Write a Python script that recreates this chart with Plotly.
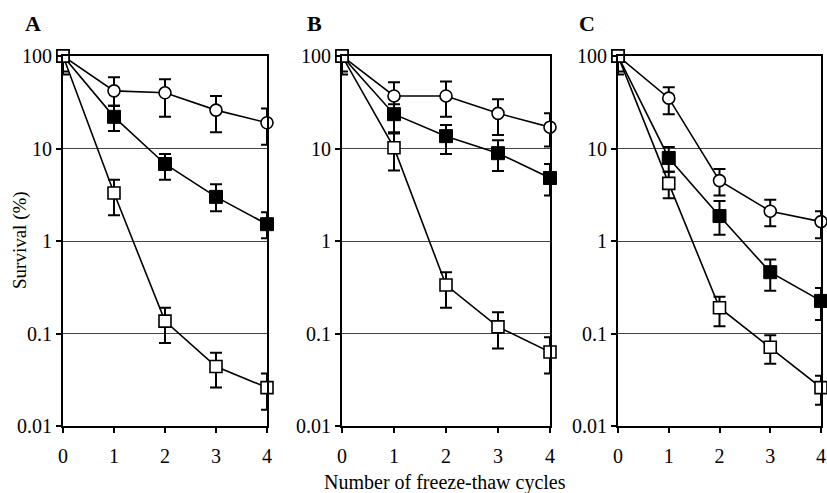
import plotly.graph_objects as go

cycles = [0, 1, 2, 3, 4]
panels = ["A", "B", "C"]

# Panel A
A_circ = [100, 42, 40, 26, 19]
A_circ_hi = [100, 59, 56, 37, 27]
A_circ_lo = [100, 29, 22, 15, 11]
A_fsq = [100, 22, 6.8, 3.0, 1.52]
A_fsq_hi = [100, 29, 8.7, 4.1, 2.05]
A_fsq_lo = [68, 15.5, 4.6, 2.1, 1.07]
A_osq = [100, 3.3, 0.136, 0.044, 0.026]
A_osq_hi = [100, 4.6, 0.19, 0.062, 0.037]
A_osq_lo = [63, 1.9, 0.079, 0.026, 0.015]

# Panel B
B_circ = [100, 37, 37, 24, 17]
B_circ_hi = [100, 52, 53, 34, 24]
B_circ_lo = [100, 25, 22, 14, 10.5]
B_fsq = [100, 23.5, 13.6, 8.9, 4.8]
B_fsq_hi = [100, 30, 17.9, 12.3, 6.8]
B_fsq_lo = [68, 14.5, 8.7, 5.7, 3.1]
B_osq = [100, 10.2, 0.334, 0.118, 0.063]
B_osq_hi = [100, 15, 0.46, 0.17, 0.091]
B_osq_lo = [63, 5.8, 0.19, 0.069, 0.037]

# Panel C
C_circ = [100, 35, 4.5, 2.1, 1.62]
C_circ_hi = [100, 46, 6.0, 2.8, 2.1]
C_circ_lo = [100, 23.5, 3.1, 1.44, 1.07]
C_fsq = [100, 7.9, 1.86, 0.46, 0.225]
C_fsq_hi = [100, 10.4, 2.7, 0.63, 0.31]
C_fsq_lo = [68, 5.6, 1.17, 0.29, 0.14]
C_osq = [100, 4.2, 0.19, 0.071, 0.026]
C_osq_hi = [100, 5.6, 0.25, 0.096, 0.035]
C_osq_lo = [63, 2.9, 0.12, 0.047, 0.017]

y_tickvals = [0.01, 0.1, 1, 10, 100]
y_ticktext = ["0.01", "0.1", "1", "10", "100"]
x_title = "Number of freeze-thaw cycles"
y_title = "Survival (%)"

data = {
    "A": [(A_circ, A_circ_hi, A_circ_lo, "circle"), (A_fsq, A_fsq_hi, A_fsq_lo, "fsq"), (A_osq, A_osq_hi, A_osq_lo, "osq")],
    "B": [(B_circ, B_circ_hi, B_circ_lo, "circle"), (B_fsq, B_fsq_hi, B_fsq_lo, "fsq"), (B_osq, B_osq_hi, B_osq_lo, "osq")],
    "C": [(C_circ, C_circ_hi, C_circ_lo, "circle"), (C_fsq, C_fsq_hi, C_fsq_lo, "fsq"), (C_osq, C_osq_hi, C_osq_lo, "osq")],
}

W, H = 827, 493
def fx(px):
    return px / W
def fy(py):
    return 1 - py / H

x_px = [(63, 267), (342, 550), (618, 821)]
y_top, y_bot = 56, 426
label_px = [33, 314, 587]

FONT = "Liberation Serif, Times New Roman, serif"
fig = go.Figure()

for i, p in enumerate(panels):
    xa = "x" if i == 0 else f"x{i+1}"
    ya = "y" if i == 0 else f"y{i+1}"
    for vals, hi, lo, kind in data[p]:
        plus = [h - v for h, v in zip(hi, vals)]
        minus = [v - l for v, l in zip(vals, lo)]
        if kind == "circle":
            marker = dict(symbol="circle", size=12, color="white", line=dict(color="black", width=1.6))
        elif kind == "fsq":
            marker = dict(symbol="square", size=13, color="black", line=dict(color="black", width=1))
        else:
            marker = dict(symbol="square", size=12, color="white", line=dict(color="black", width=1.6))
        fig.add_trace(go.Scatter(
            x=cycles, y=vals, xaxis=xa, yaxis=ya, mode="lines+markers",
            line=dict(color="black", width=1.6), marker=marker,
            error_y=dict(type="data", symmetric=False, array=plus, arrayminus=minus,
                         color="black", thickness=2, width=6),
            cliponaxis=False, showlegend=False,
        ))
    x0, x1 = x_px[i]
    axis_common = dict(showline=True, linecolor="black", linewidth=2, mirror=True,
                       ticks="outside", tickcolor="black", ticklen=5, tickwidth=1.5,
                       automargin=False,
                       tickfont=dict(family=FONT, size=20, color="black"))
    fig.layout[("xaxis" if i == 0 else f"xaxis{i+1}")] = dict(
        domain=[fx(x0), fx(x1)], range=[0, 4], tickvals=cycles,
        showgrid=False, zeroline=False, anchor=ya, ticklabelstandoff=6, **axis_common)
    fig.layout[("yaxis" if i == 0 else f"yaxis{i+1}")] = dict(
        domain=[fy(y_bot), fy(y_top)], type="log", range=[-2, 2],
        tickvals=y_tickvals, ticktext=y_ticktext, showgrid=True,
        gridcolor="#444444", gridwidth=1, anchor=xa, **axis_common)
    fig.add_annotation(x=fx(label_px[i]), y=fy(23), xref="paper", yref="paper",
                       xanchor="center", yanchor="middle",
                       text=f"<b>{p}</b>", showarrow=False,
                       font=dict(family=FONT, size=22, color="black"))

fig.add_annotation(x=fx(445), y=fy(482), xref="paper", yref="paper", text=x_title,
                   xanchor="center", yanchor="middle",
                   showarrow=False, font=dict(family=FONT, size=20, color="black"))
fig.add_annotation(x=fx(20), y=fy(240), xref="paper", yref="paper", text=y_title,
                   xanchor="center", yanchor="middle",
                   showarrow=False, textangle=-90, font=dict(family=FONT, size=19, color="black"))

fig.update_layout(width=W, height=H, margin=dict(l=0, r=0, t=0, b=0, autoexpand=False),
                  paper_bgcolor="white", plot_bgcolor="white")
fig.write_html("out.html", config={"displayModeBar": False},
               post_script="document.body.style.margin='0';document.body.style.overflow='hidden';")
